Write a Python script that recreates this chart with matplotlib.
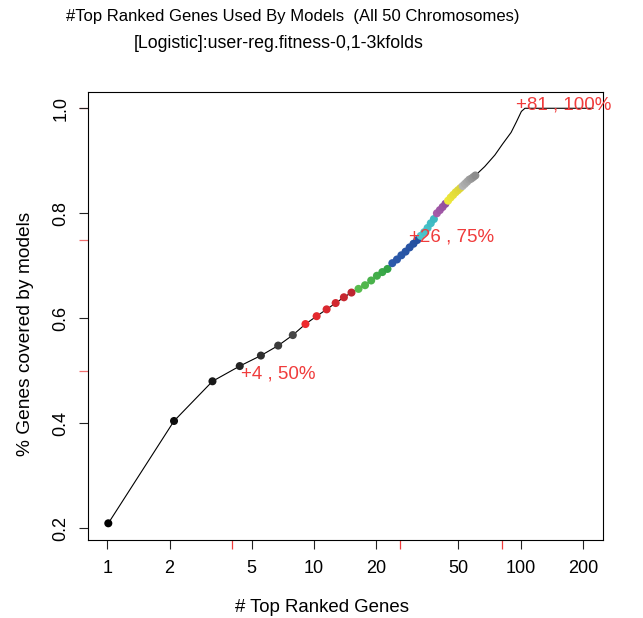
import numpy as np
import matplotlib
matplotlib.use("Agg")
import matplotlib.pyplot as plt
from matplotlib.colors import to_rgb
from matplotlib.ticker import NullLocator

plt.rcParams['font.family'] = ['Liberation Sans', 'DejaVu Sans']

# fraction of genes covered when using the top n ranked genes
n_genes = np.arange(1, 49)
coverage = [0.2095, 0.4044, 0.480, 0.509, 0.529, 0.548, 0.568, 0.589,
            0.604, 0.617, 0.629, 0.640, 0.649, 0.656, 0.663, 0.672,
            0.681, 0.688, 0.694, 0.705, 0.712, 0.720, 0.727, 0.735,
            0.742, 0.749, 0.757, 0.764, 0.772, 0.781, 0.789, 0.800,
            0.806, 0.812, 0.818, 0.824, 0.830, 0.835, 0.840, 0.844,
            0.848, 0.852, 0.856, 0.860, 0.864, 0.866, 0.869, 0.872]

# rest of the curve (no markers)
tail_genes = [53, 59, 64, 70, 74, 78, 81, 166]
tail_coverage = [0.889, 0.911, 0.932, 0.954, 0.974, 0.994, 1.0, 1.0]

# points per colour group and the colour ramp of each group
group_sizes = [7, 6, 6, 7, 5, 4, 6, 7]
group_colors = [('#000000', '#474747'), ('#ee2a2e', '#bd2630'),
                ('#58bc4e', '#33a346'), ('#2c5aab', '#2450a0'),
                ('#4dc7cc', '#3eb8c1'), ('#a65ba9', '#944f9f'),
                ('#eee83a', '#dcd53a'), ('#b3b3b3', '#8c8c8c')]

# coverage cut-offs marked on the axes
cut_genes = [4, 26, 81]
cut_pct = [0.50, 0.75, 1.00]
cut_offsets = [(6.5, -2.0), (6.5, 1.8), (10.5, 2.4)]

xticks = [1, 2, 5, 10, 20, 50, 100, 200]
yticks = [0.2, 0.4, 0.6, 0.8, 1.0]

title1 = "#Top Ranked Genes Used By Models  (All 50 Chromosomes)"
title2 = "[Logistic]:user-reg.fitness-0,1-3kfolds"

RED = '#f03c3c'
PINK = '#f07070'


def ramp(c0, c1, n):
    a, b = np.array(to_rgb(c0)), np.array(to_rgb(c1))
    if n == 1:
        return [a]
    return [a + (b - a) * k / (n - 1) for k in range(n)]


point_colors = []
for size, (c0, c1) in zip(group_sizes, group_colors):
    point_colors += ramp(c0, c1, size)

W, H = 643, 618
fig = plt.figure(figsize=(W / 100, H / 100), dpi=100)
ax = fig.add_axes([88 / W, 78 / H, 515.3 / W, 448 / H])

# axis with the printed ticks
ax.set_xscale('log')
ax.set_xlim(0.8065, 250.9)
ax.set_ylim(0.1777, 1.031)
ax.set_xticks(xticks)
ax.set_xticklabels([str(t) for t in xticks])
ax.xaxis.set_minor_locator(NullLocator())
ax.set_yticks(yticks)
ax.set_yticklabels([f"{t:.1f}" for t in yticks], rotation=90, va='center')
ax.tick_params(direction='out', length=6.5, width=0.8, labelsize=13,
               color='#222222')
ax.tick_params(axis='x', pad=8)
ax.tick_params(axis='y', pad=7)
for s in ax.spines.values():
    s.set_linewidth(0.8)
ax.patch.set_visible(False)

# red cut-off ticks
secx = ax.secondary_xaxis('bottom')
secx.set_xticks(cut_genes)
secx.xaxis.set_minor_locator(NullLocator())
secx.tick_params(direction='out', length=6.5, width=0.9, color=RED,
                 labelbottom=False)
secx.spines['bottom'].set_visible(False)
secy = ax.secondary_yaxis('left')
secy.set_yticks(cut_pct)
secy.tick_params(direction='out', length=6.5, width=0.9, color=PINK,
                 labelleft=False)
secy.spines['left'].set_visible(False)

# curve and points
axd = ax.twiny()
axd.set_zorder(ax.get_zorder() - 1)
axd.set_xscale('log')
axd.set_xlim(0.8072, 185.1)
axd.tick_params(which='both', top=False, labeltop=False)
for s in axd.spines.values():
    s.set_visible(False)
axd.plot(list(n_genes) + tail_genes, coverage + tail_coverage,
         color='black', lw=0.8, zorder=2)
axd.scatter(n_genes, coverage, s=5.8 ** 2, c=point_colors, linewidths=0,
            zorder=3)

for g, p, (dx, dy) in zip(cut_genes, cut_pct, cut_offsets):
    ax.annotate(f"+{g} , {int(round(p * 100))}%", (g, p), xytext=(dx, dy),
                textcoords='offset points', ha='left', va='center',
                color=RED, fontsize=13.5, zorder=5)

fig.text(292.5 / W, 1 - 17 / H, title1, ha='center', va='center',
         fontsize=12)
fig.text(279 / W, 1 - 44 / H, title2, ha='center', va='center',
         fontsize=12.8)
fig.text(322 / W, 1 - 607 / H, "# Top Ranked Genes", ha='center',
         va='center', fontsize=13.4)
fig.text(25.5 / W, 1 - 334 / H, "% Genes covered by models", ha='center',
         va='center', rotation=90, fontsize=13.8)

fig.savefig("out.png", dpi=100)
